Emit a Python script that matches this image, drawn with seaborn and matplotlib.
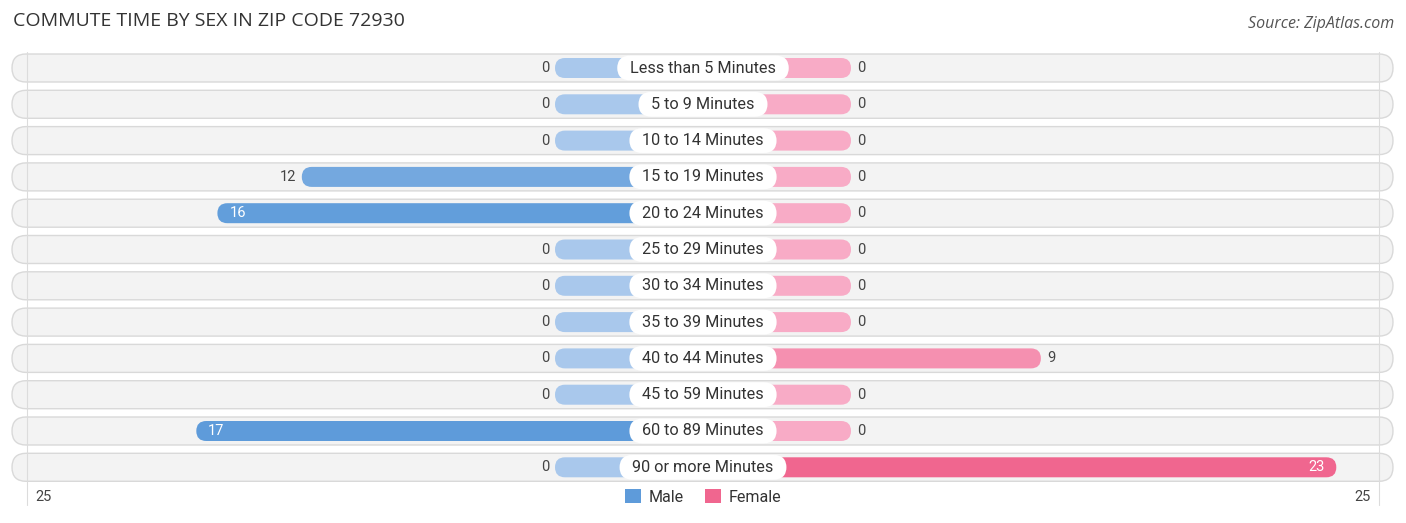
import numpy as np
import pandas as pd
import matplotlib
matplotlib.use("Agg")
import matplotlib.pyplot as plt
from matplotlib.patches import FancyBboxPatch, Patch
from matplotlib.colors import to_rgb
import seaborn as sns

# ---------------- data ----------------
categories = ["Less than 5 Minutes", "5 to 9 Minutes", "10 to 14 Minutes", "15 to 19 Minutes",
              "20 to 24 Minutes", "25 to 29 Minutes", "30 to 34 Minutes", "35 to 39 Minutes",
              "40 to 44 Minutes", "45 to 59 Minutes", "60 to 89 Minutes", "90 or more Minutes"]
male = [0, 0, 0, 12, 16, 0, 0, 0, 0, 0, 17, 0]
female = [0, 0, 0, 0, 0, 0, 0, 0, 9, 0, 0, 23]
axis_max = 25
title = "COMMUTE TIME BY SEX IN ZIP CODE 72930"
source = "Source: ZipAtlas.com"

# ---------------- layout ----------------
W, H = 1406, 523
K = 21.1           # px per unit
ROW = 36.3         # px per row
Y0 = 68            # px of first row centre
OFF = 148 / K      # stub under the centre label

sns.set_style("white")
plt.rcParams["font.family"] = ["Roboto", "DejaVu Sans"]

fig = plt.figure(figsize=(W / 100, H / 100), dpi=100)
ax = fig.add_axes([0, 0, 1, 1])

df = pd.DataFrame({"cat": categories, "male": male, "female": female})
df["male_x"] = -(OFF + df["male"])
df["female_x"] = OFF + df["female"]

bar_h = 20 / ROW
sns.barplot(data=df, y="cat", x="male_x", orient="h", ax=ax, color="#5e9bda",
            width=bar_h, errorbar=None)
sns.barplot(data=df, y="cat", x="female_x", orient="h", ax=ax, color="#f0668f",
            width=bar_h, errorbar=None)

ax.set_xlim(-W / 2 / K, W / 2 / K)
ax.set_ylim((H - Y0) / ROW, -Y0 / ROW)
ax.axis("off")

aspect = K / ROW


def mix(c0, c1, t):
    a, b = np.array(to_rgb(c0)), np.array(to_rgb(c1))
    return tuple(a + (b - a) * t)


def rounded(x0, y0, w, h, r_px, **kw):
    p = FancyBboxPatch((x0, y0), w, h,
                       boxstyle=f"round,pad=0,rounding_size={r_px / K}",
                       mutation_aspect=aspect, **kw)
    ax.add_patch(p)
    return p


rects = list(ax.patches)
mmax, fmax = max(male), max(female)
for j, rect in enumerate(rects):
    x, y, w, h = rect.get_x(), rect.get_y(), rect.get_width(), rect.get_height()
    rect.remove()
    if w < 0:
        x, w = x + w, -w
    if j < len(categories):
        v = male[j]
        col = mix("#a9c8ec", "#5e9bda", v / mmax)
    else:
        v = female[j - len(categories)]
        col = mix("#f8abc6", "#f0668f", v / fmax)
    rounded(x, y, w, h, 10, fc=col, ec="none", zorder=2)

# row backgrounds
bx0, bx1 = (12 - W / 2) / K, (1393 - W / 2) / K
bg_h = 28 / ROW
for i in range(len(categories)):
    rounded(bx0, i - bg_h / 2, bx1 - bx0, bg_h, 14, fc="#f3f3f3", ec="#d9d9d9",
            lw=1.0, zorder=0)

# grid lines at +-axis_max
for s in (-1, 1):
    ax.plot([s * (OFF + axis_max)] * 2, [-0.45, 12.05], color="#dcdcdc", lw=0.8, zorder=0.5)

# centre labels and values
for i, cat in enumerate(categories):
    ax.text(0, i, "  " + cat + "  ", ha="center", va="center", fontsize=11.7, color="#333333",
            bbox=dict(boxstyle="round,pad=0.3,rounding_size=0.8", fc="white", ec="none"),
            zorder=4)
    mv, fv = male[i], female[i]
    mend = -(OFF + mv)
    if mv >= 14:
        ax.text(mend + 12 / K, i, str(mv), ha="left", va="center", fontsize=10.5,
                color="white", zorder=5)
    else:
        ax.text(mend - 6 / K, i, str(mv), ha="right", va="center", fontsize=10.5,
                color="#444444", zorder=5)
    fend = OFF + fv
    if fv >= 14:
        ax.text(fend - 12 / K, i, str(fv), ha="right", va="center", fontsize=10.5,
                color="white", zorder=5)
    else:
        ax.text(fend + 6 / K, i, str(fv), ha="left", va="center", fontsize=10.5,
                color="#444444", zorder=5)

# axis end labels
ya = (497 - Y0) / ROW
ax.text(-(OFF + axis_max) + 8 / K, ya, str(axis_max), ha="left", va="center",
        fontsize=10.5, color="#444444")
ax.text((OFF + axis_max) - 8 / K, ya, str(axis_max), ha="right", va="center",
        fontsize=10.5, color="#444444")

# legend
handles = [Patch(fc="#5e9bda", ec="none", label="Male"),
           Patch(fc="#f0668f", ec="none", label="Female")]
fig.legend(handles=handles, loc="center", bbox_to_anchor=(0.5, 1 - 497 / H), ncol=2,
           frameon=False, fontsize=11.5, handlelength=1.0, handleheight=1.0,
           handletextpad=0.5, columnspacing=1.3, labelcolor="#333333")

fig.text(13 / W, 1 - 21 / H, title, ha="left", va="center", fontsize=14,
         color="#333333", family=["Open Sans", "DejaVu Sans"])
fig.text(1394 / W, 1 - 24 / H, source, ha="right", va="center", fontsize=11.5,
         color="#555555", style="italic", family=["Open Sans", "DejaVu Sans"])

fig.savefig("out.png", dpi=100)
